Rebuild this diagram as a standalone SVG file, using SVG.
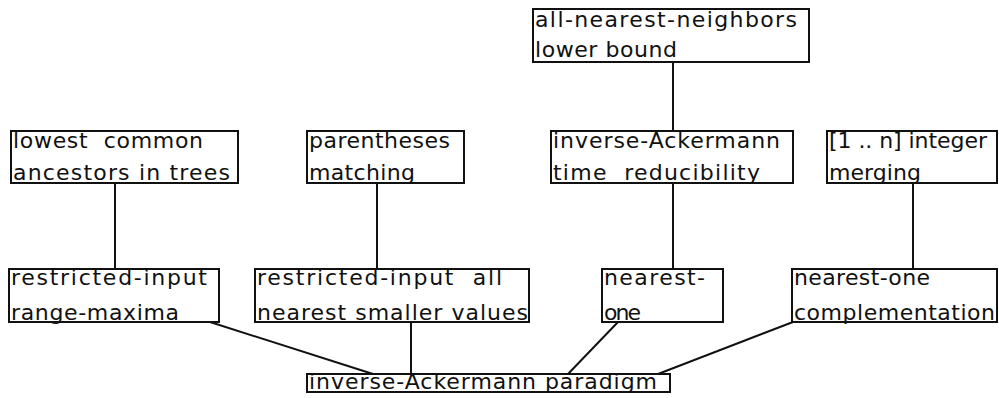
<svg xmlns="http://www.w3.org/2000/svg" width="999" height="398" viewBox="0 0 999 398">
<style>
rect.box { fill: #fff; stroke: #111; stroke-width: 2; }
text { font-family: "DejaVu Sans", "Liberation Sans", sans-serif; font-size: 22px; fill: #111; white-space: pre; }
#connectors line { stroke: #111; stroke-width: 2; }
</style>
<rect width="999" height="398" fill="#fff"/>
<g id="connectors">
  <line x1="673" y1="62" x2="673" y2="131"/>
  <line x1="115" y1="183" x2="115" y2="269"/>
  <line x1="377" y1="183" x2="377" y2="269"/>
  <line x1="673" y1="183" x2="673" y2="269"/>
  <line x1="913" y1="183" x2="913" y2="269"/>
  <line x1="210" y1="322" x2="373" y2="374"/>
  <line x1="411" y1="322" x2="411" y2="374"/>
  <line x1="618" y1="322" x2="568" y2="374"/>
  <line x1="793" y1="322" x2="658" y2="374"/>
</g>
<g id="n-all-nearest-neighbors">
  <rect class="box" x="533" y="9" width="276" height="53"/>
  <text x="535" y="27" textLength="262">all-nearest-neighbors</text>
  <text x="535" y="57" textLength="142">lower bound</text>
</g>
<g id="n-lowest-common-ancestors">
  <rect class="box" x="11" y="131" width="227" height="52"/>
  <text x="13" y="148" textLength="190" xml:space="preserve">lowest  common</text>
  <text x="13" y="180" textLength="217">ancestors in trees</text>
</g>
<g id="n-parentheses-matching">
  <rect class="box" x="307" y="131" width="157" height="52"/>
  <text x="309" y="148" textLength="141">parentheses</text>
  <text x="309" y="180" textLength="106">matching</text>
</g>
<g id="n-inverse-ackermann-time">
  <rect class="box" x="551" y="131" width="242" height="52"/>
  <text x="553" y="148" textLength="227">inverse-Ackermann</text>
  <text x="553" y="180" textLength="207" xml:space="preserve">time  reducibility</text>
</g>
<g id="n-integer-merging">
  <rect class="box" x="827" y="131" width="170" height="52"/>
  <text x="829" y="148" textLength="158">[1 .. n] integer</text>
  <text x="829" y="180" textLength="92">merging</text>
</g>
<g id="n-range-maxima">
  <rect class="box" x="9" y="269" width="210" height="53"/>
  <text x="11" y="285" textLength="196">restricted-input</text>
  <text x="11" y="320" textLength="168">range-maxima</text>
</g>
<g id="n-all-nearest-smaller">
  <rect class="box" x="255" y="269" width="274" height="53"/>
  <text x="257" y="285" textLength="245" xml:space="preserve">restricted-input  all</text>
  <text x="257" y="320" textLength="271">nearest smaller values</text>
</g>
<g id="n-nearest-one">
  <rect class="box" x="602" y="269" width="121" height="53"/>
  <text x="604" y="285" textLength="101">nearest-</text>
  <text x="604" y="320" textLength="37">one</text>
</g>
<g id="n-complementation">
  <rect class="box" x="792" y="269" width="205" height="53"/>
  <text x="794" y="285" textLength="136">nearest-one</text>
  <text x="794" y="320" textLength="201">complementation</text>
</g>
<g id="n-paradigm">
  <rect class="box" x="307" y="374" width="363" height="18"/>
  <text x="309" y="389" textLength="348">inverse-Ackermann paradigm</text>
</g>
</svg>
